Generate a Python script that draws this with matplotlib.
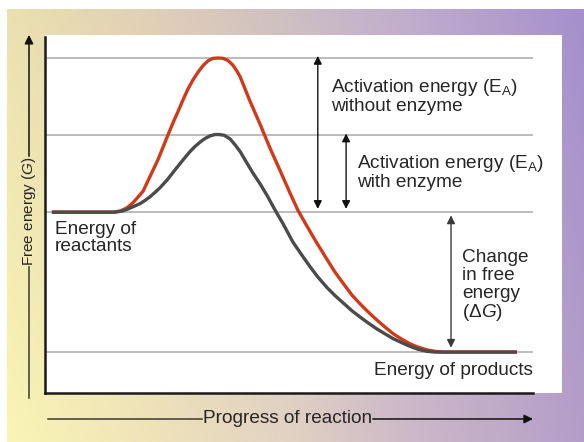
import numpy as np
import matplotlib.pyplot as plt
from matplotlib.patches import Rectangle

plt.rcParams['font.family'] = ['Liberation Sans', 'DejaVu Sans']
plt.rcParams['mathtext.fontset'] = 'custom'
plt.rcParams['mathtext.rm'] = 'Liberation Sans'
plt.rcParams['mathtext.it'] = 'Liberation Sans:italic'

# energy levels (free energy, arbitrary units 0-100)
products_G = 11.5
reactants_G = 50.8
peak_enzyme_G = 72.6
peak_no_enzyme_G = 94.1
levels = [products_G, reactants_G, peak_enzyme_G, peak_no_enzyme_G]

# reaction path (progress 0-100, free energy)
no_enzyme_x = [1.4, 13.9, 15.4, 16.8, 18.0, 19.1, 20.1, 21.1, 22.1, 23.2, 24.2, 25.2, 26.2,
               27.3, 28.3, 29.3, 30.3, 31.4, 32.4, 33.4, 34.4, 35.5, 36.5, 37.5, 38.5,
               39.3, 40.0, 41.0, 42.0, 44.1, 46.1, 48.2, 50.2, 51.8, 53.5, 55.5, 57.8,
               59.4, 61.1, 62.9, 64.6, 66.2, 68.0, 69.7, 71.3, 73.0, 74.8, 76.4, 78.3,
               79.9, 81.6, 96.7]
no_enzyme_G = [50.8, 50.8, 51.1, 52.0, 53.4, 55.1, 56.7, 59.6, 62.5, 65.7, 69.1, 72.5, 75.8,
               79.2, 82.4, 85.4, 87.9, 90.2, 92.0, 93.3, 94.0, 94.1, 94.0, 93.4, 92.1,
               90.5, 88.8, 85.4, 82.0, 75.4, 68.8, 62.4, 56.2, 51.4, 47.3, 42.6, 37.5,
               34.0, 30.8, 27.5, 25.0, 22.8, 20.5, 18.5, 16.7, 15.2, 13.8, 12.9, 12.1,
               11.7, 11.5, 11.5]

enzyme_x = [1.4, 14.3, 15.8, 17.0, 18.0, 19.5, 20.5, 21.5, 22.5, 23.6, 25.0, 26.6, 28.3,
            29.7, 30.7, 31.8, 32.8, 33.8, 34.8, 35.7, 36.7, 37.9, 38.9, 40.0, 41.2,
            42.6, 44.1, 45.5, 47.1, 48.8, 50.8, 52.5, 54.3, 55.9, 57.8, 59.4, 61.1,
            62.9, 64.6, 66.2, 68.0, 69.7, 71.3, 73.0, 74.8, 76.4, 78.3, 79.9, 81.6, 96.7]
enzyme_G = [50.8, 50.8, 51.1, 51.7, 52.3, 53.2, 54.1, 55.1, 56.3, 57.7, 59.8, 62.6, 65.5,
            67.8, 69.2, 70.5, 71.5, 72.2, 72.6, 72.6, 72.4, 71.4, 69.8, 67.8, 65.0,
            61.8, 58.7, 55.5, 51.5, 47.5, 42.4, 39.0, 35.5, 32.6, 29.6, 27.4, 25.3,
            23.1, 21.3, 19.7, 18.0, 16.6, 15.3, 14.2, 13.1, 12.3, 11.7, 11.5, 11.5, 11.5]

# x positions of the double arrows
ea_no_enzyme_x = 55.9
ea_enzyme_x = 61.7
delta_g_x = 83.2

W, H = 584, 442
fig = plt.figure(figsize=(W / 100, H / 100), dpi=100)

# gradient backdrop (yellow -> purple)
bg = fig.add_axes([0, 0, 1, 1])
bg.set_axis_off()
bg.set_zorder(-2)
xs = np.linspace(0, 1, W)
stops = [0, 0.25, 0.5, 0.7, 1]
top_c = np.array([[235, 225, 175], [225, 207, 182], [205, 190, 195], [192, 172, 205], [165, 143, 205]])
bot_c = np.array([[250, 246, 180], [240, 228, 185], [225, 210, 195], [205, 185, 200], [180, 158, 200]])
top_row = np.stack([np.interp(xs, stops, top_c[:, k]) for k in range(3)], axis=-1)
bot_row = np.stack([np.interp(xs, stops, bot_c[:, k]) for k in range(3)], axis=-1)
t = np.linspace(0, 1, H)[:, None, None]
img = (top_row[None] * (1 - t) + bot_row[None] * t) / 255
img[:9, :, :] = 1.0
img[:, :7, :] = 1.0
bg.imshow(img, aspect='auto', extent=[0, 1, 0, 1])
bg.set_xlim(0, 1)
bg.set_ylim(0, 1)

# white panel behind the plot
bg.add_patch(Rectangle((45 / W, (H - 393) / H), (562 - 45) / W, (393 - 35) / H,
                       transform=fig.transFigure, facecolor='white', edgecolor='none', zorder=3))

ax = fig.add_axes([45 / W, (H - 393) / H, (533 - 45) / W, (393 - 37) / H])
ax.set_zorder(2)
ax.set_facecolor('none')
ax.set_xlim(0, 100)
ax.set_ylim(0, 100)
for s in ['top', 'right']:
    ax.spines[s].set_visible(False)
for s in ['left', 'bottom']:
    ax.spines[s].set_linewidth(1.8)
    ax.spines[s].set_color('#1a1a1a')
ax.set_xticks([])
ax.set_yticks([])

for g in levels:
    ax.axhline(g, xmin=0, xmax=1, color='#a9a9a9', lw=1.1, zorder=1)

ax.plot(no_enzyme_x, no_enzyme_G, color='#cf3b1a', lw=2.4, solid_capstyle='butt',
        solid_joinstyle='round', zorder=3)
ax.plot(enzyme_x, enzyme_G, color='#4b4b4b', lw=2.4, solid_capstyle='butt',
        solid_joinstyle='round', zorder=4)

arrow_kw = dict(arrowstyle='<|-|>', color='#111111', lw=1.0, mutation_scale=12, shrinkA=0, shrinkB=0)
ax.annotate('', xy=(ea_no_enzyme_x, peak_no_enzyme_G + 0.6), xytext=(ea_no_enzyme_x, reactants_G + 0.9),
            arrowprops=arrow_kw, zorder=5)
ax.annotate('', xy=(ea_enzyme_x, peak_enzyme_G + 0.3), xytext=(ea_enzyme_x, reactants_G + 0.9),
            arrowprops=arrow_kw, zorder=5)
dg_kw = dict(arrow_kw, color='#3a3a3a')
ax.annotate('', xy=(delta_g_x, reactants_G - 0.9), xytext=(delta_g_x, products_G + 1.2),
            arrowprops=dg_kw, zorder=5)

fs = 13.7
tc = '#262626'
ax.text(58.6, 83.4, 'Activation energy (E$_\\mathregular{A}$)\nwithout enzyme', fontsize=fs, color=tc,
        ha='left', va='center', linespacing=0.97)
ax.text(63.9, 62.1, 'Activation energy (E$_\\mathregular{A}$)\nwith enzyme', fontsize=fs, color=tc,
        ha='left', va='center', linespacing=1.0)
ax.text(2.0, 43.5, 'Energy of\nreactants', fontsize=fs, color=tc, ha='left', va='center', linespacing=1.03)
ax.text(85.5, 30.0, 'Change\nin free\nenergy\n(Δ$\\mathit{G}$)', fontsize=fs, color=tc,
        ha='left', va='center', linespacing=1.06)
ax.text(100, 6.3, 'Energy of products', fontsize=fs, color=tc, ha='right', va='center')

# axis titles with arrows, outside the plot area
line_c = '#3a3a30'
ax.plot([0.006, 0.322], [-0.073, -0.073], transform=ax.transAxes, clip_on=False, color=line_c, lw=1.1)
ax.annotate('', xy=(1.0, -0.073), xytext=(0.672, -0.073), xycoords='axes fraction',
            arrowprops=dict(arrowstyle='-|>', color='#111111', lw=1.1, mutation_scale=13,
                            shrinkA=0, shrinkB=0), annotation_clip=False)
ax.text(0.497, -0.073, 'Progress of reaction', transform=ax.transAxes, fontsize=fs, color=tc,
        ha='center', va='center')

ax.plot([-0.0328, -0.0328], [-0.014, 0.355], transform=ax.transAxes, clip_on=False, color=line_c, lw=1.1)
ax.annotate('', xy=(-0.0328, 1.006), xytext=(-0.0328, 0.665), xycoords='axes fraction',
            arrowprops=dict(arrowstyle='-|>', color='#111111', lw=1.1, mutation_scale=13,
                            shrinkA=0, shrinkB=0), annotation_clip=False)
ax.text(-0.0328, 0.511, 'Free energy ($\\mathit{G}$)', transform=ax.transAxes, fontsize=11, color=tc,
        ha='center', va='center', rotation=90)

fig.savefig('out.png', dpi=100)
